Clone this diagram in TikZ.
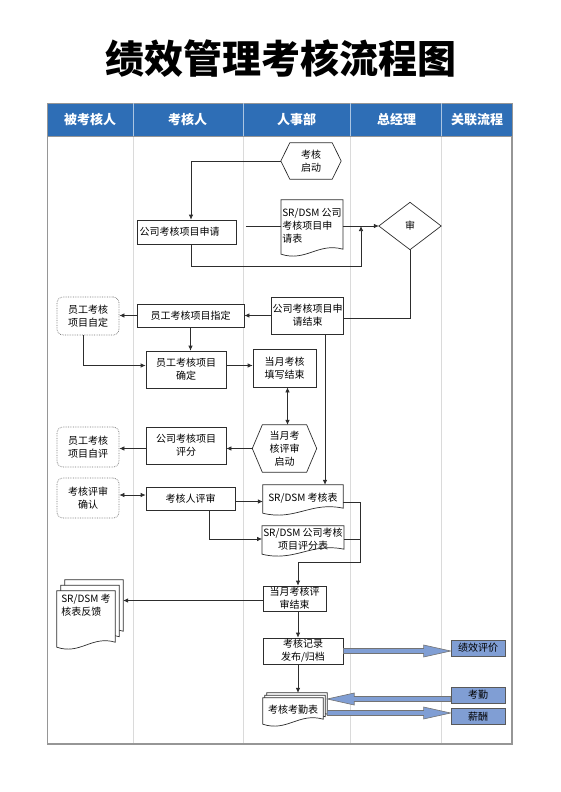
\documentclass[tikz,border=0pt]{standalone}
\usepackage{fontspec}
\setmainfont{Noto Sans CJK SC}
\usetikzlibrary{calc,arrows.meta}
\pgfdeclarelayer{back}
\pgfsetlayers{back,main}
\definecolor{hdrblue}{RGB}{46,110,182}
\definecolor{relblue}{RGB}{128,158,212}
\definecolor{laneline}{RGB}{218,218,218}
\definecolor{framegray}{RGB}{150,150,150}
\definecolor{ink}{RGB}{45,45,45}
\newcommand{\hexpath}[2]{\draw[shapeline] (#1.west) -- ($(#1.north west)+(#2,0)$) -- ($(#1.north east)+(-#2,0)$) -- (#1.east) -- ($(#1.south east)+(-#2,0)$) -- ($(#1.south west)+(#2,0)$) -- cycle;}
\newcommand{\docpathoff}[3]{\path[docline] ($(#1.north west)+(#2,#3)$) -- ($(#1.north east)+(#2,#3)$) -- ($(#1.south east)+(#2,#3-3)$) .. controls ($(#1.south east)!0.4!(#1.south west)+(#2,#3-10)$) and ($(#1.south east)!0.6!(#1.south west)+(#2,#3+10)$) .. ($(#1.south west)+(#2,#3+2)$) -- cycle;}
\newcommand{\docpath}[1]{\docpathoff{#1}{0}{0}}
\newcommand{\hblock}[2]{\path[blk] let \p1=#1, \p2=#2, \n1={sign(\x2-\x1)} in (\x1,{\y1+2.5pt}) -- ({\x2-(\n1)*27pt},{\y1+2.5pt}) -- ({\x2-(\n1)*27pt},{\y1+6pt}) -- (\x2,\y1) -- ({\x2-(\n1)*27pt},{\y1-6pt}) -- ({\x2-(\n1)*27pt},{\y1-2.5pt}) -- (\x1,{\y1-2.5pt}) -- cycle;}
\tikzset{
 txt/.style={font=\fontsize{10}{13}\selectfont, inner sep=1pt, align=center, text=black},
 box/.style={txt, draw=ink, line width=0.7pt, fill=white},
 bare/.style={txt, draw=none},
 soft/.style={txt, draw=black!55, densely dotted, line width=0.7pt, rounded corners=6pt},
 flow/.style={draw=ink, line width=0.7pt},
 arr/.style={flow, -{Latex[length=5pt,width=4.5pt]}},
 darr/.style={flow, {Latex[length=5pt,width=4.5pt]}-{Latex[length=5pt,width=4.5pt]}},
 rel/.style={txt, draw=black!65, fill=relblue, line width=0.7pt},
 blk/.style={draw=black!55, fill=relblue, line width=0.6pt},
 hdr/.style={font=\fontsize{13}{13}\selectfont\bfseries, text=white},
 docline/.style={draw=ink, fill=white, line width=0.7pt},
 shapeline/.style={draw=ink, line width=0.7pt},
 sz/.style 2 args={minimum width=#1pt, minimum height=#2pt},
}
\begin{document}
\begin{tikzpicture}[x=1pt,y=-1pt]
\useasboundingbox (0,0) rectangle (560,792);
% title
\node[font=\fontsize{39}{39}\selectfont\bfseries] (title) at (281,59) {绩效管理考核流程图};
% header
\fill[hdrblue] (47.5,103) rectangle (512,136);
\draw[framegray, line width=0.6pt] (47.5,103) rectangle (512,136);
\foreach \xx in {133,243,350.5,441.5}{\draw[white!60!hdrblue, line width=0.6pt] (\xx,103) -- (\xx,136);}
\node[hdr] (h1) at (90,119.5) {被考核人};
\node[hdr] (h2) at (187.5,119.5) {考核人};
\node[hdr] (h3) at (296.5,119.5) {人事部};
\node[hdr] (h4) at (396.5,119.5) {总经理};
\node[hdr] (h5) at (477,119.5) {关联流程};
% frame
\draw[framegray, line width=1.3pt] (47.5,136) -- (47.5,744) -- (512,744) -- (512,136);

% nodes
\node[bare, sz={60}{36}] (start) at (311,161) {考核\\启动};
\node[box, sz={99}{24}, text width=95pt, align=left] (req) at (187,232) {公司考核项目申请};
\node[bare, sz={61}{52}, align=left] (form1) at (312,226) {SR/DSM 公司\\考核项目申\\请表};
\node[bare, sz={62}{47}] (audit) at (410,226) {审};
\node[box, sz={71}{37}] (reqend) at (307.5,315.5) {公司考核项目申\\请结束};
\node[box, sz={107}{23}] (assign) at (190.5,315.5) {员工考核项目指定};
\node[soft, sz={62}{38}] (selfdef) at (88,316) {员工考核\\项目自定};
\node[box, sz={80}{37}] (confirm) at (186,369.5) {员工考核项目\\确定};
\node[box, sz={63}{38}] (fillend) at (284.5,368) {当月考核\\填写结束};
\node[bare, sz={64}{47}] (review) at (284.5,448.5) {当月考\\核评审\\启动};
\node[box, sz={80}{37}] (score) at (186,445.5) {公司考核项目\\评分};
\node[soft, sz={62}{40}] (selfeval) at (88,447) {员工考核\\项目自评};
\node[soft, sz={62}{40}] (ack) at (88,498) {考核评审\\确认};
\node[box, sz={89}{23}] (revw) at (190.5,498.5) {考核人评审};
\node[bare, sz={80}{26}] (sheet) at (303,498) {SR/DSM 考核表};
\node[bare, sz={80}{26}] (scoresheet) at (303,539) {SR/DSM 公司考核\\项目评分表};
\node[box, sz={63}{25}] (done) at (294.5,598.5) {当月考核评\\审结束};
\node[bare, sz={58}{54}, align=left] (fb) at (86,618) {SR/DSM 考\\核表反馈\\\mbox{}\\\mbox{}};
\node[box, sz={80}{26}] (record) at (303,651) {考核记录\\发布/归档};
\node[bare, sz={60}{24}] (att) at (293,710) {考核考勤表};
\node[rel, sz={54}{16}] (perf) at (478,648) {绩效评价};
\node[rel, sz={54}{16}] (kq) at (478,695) {考勤};
\node[rel, sz={54}{16}] (pay) at (478,716.5) {薪酬};

% shapes drawn around bare nodes
\hexpath{start}{9}
\hexpath{review}{10}
\draw[shapeline] (audit.north) -- (audit.east) -- (audit.south) -- (audit.west) -- cycle;
\begin{pgfonlayer}{back}
\foreach \xx in {133,243,350.5,441.5}{\draw[laneline, line width=0.8pt] (\xx,136) -- (\xx,744);}
\docpath{form1}
\docpath{sheet}
\docpath{scoresheet}
\docpathoff{fb}{8}{-11}
\docpathoff{fb}{4}{-5.5}
\docpath{fb}
\docpathoff{att}{4}{-5}
\docpathoff{att}{2}{-2.5}
\docpath{att}
\end{pgfonlayer}

% helper coordinates
\coordinate (reqR) at ($(req.east)+(9,0)$);
\coordinate (m1) at (361,226);
\coordinate (cfR) at ($(confirm.east)+(0,-4)$);
\coordinate (reA) at ($(reqend.south)+(17.5,0)$);
\coordinate (akR) at ($(ack.east)+(0,-3)$);
\coordinate (rvR) at ($(revw.east)+(0,3)$);
\coordinate (rvB) at ($(revw.south)+(18.5,0)$);
\coordinate (j1) at (360,562);
\coordinate (shR) at ($(sheet.east)+(0,4)$);
\coordinate (fbR) at ($(fb.east)+(8,0)$);
\coordinate (dnL) at ($(done.west)+(0,2)$);
\coordinate (dnB) at ($(done.south)+(3.5,0)$);
\coordinate (rcB) at ($(record.south)+(-5,0)$);
\coordinate (attT) at ($(att.north)+(0,-5)$);
\coordinate (kqL) at ($(kq.west)+(0,4)$);
\coordinate (attR) at ($(att.east)+(4,0)$);
\coordinate (attR2) at ($(att.east)+(4,3)$);

% connectors
\draw[arr] (start.west) -| ([xshift=4pt]req.north);
\draw[flow] (reqR |- form1.west) -- (form1.west);
\draw[arr] (form1.east) -- (audit.west);
\draw[arr] ([xshift=4pt]req.south) -- ++(0,22) -| (m1);
\draw[flow] (audit.south) |- ([yshift=-3pt]reqend.east);
\draw[arr] (reqend.west) -- (assign.east);
\draw[arr] (assign.west) -- (assign.west -| selfdef.east);
\draw[arr] (assign.south) -- (assign.south |- confirm.north);
\draw[arr] ([xshift=-5pt]selfdef.south) |- ([yshift=4pt]confirm.west);
\draw[arr] (cfR) -- (cfR -| fillend.west);
\draw[arr] (reA) -- (reA |- sheet.north);
\draw[darr] ([xshift=3pt]fillend.south) -- ([xshift=3pt]review.north);
\draw[arr] (review.west) -- (review.west -| score.east);
\draw[arr] (review.west -| score.west) -- (review.west -| selfeval.east);
\draw[darr] (akR) -- (akR -| revw.west);
\draw[arr] (rvR) -- (rvR -| sheet.west);
\draw[arr] (rvB) |- (scoresheet.west);
\draw[arr] (shR) -| (j1) -| ([xshift=3.5pt]done.north);
\draw[flow] (scoresheet.east) -- (scoresheet.east -| j1);
\draw[arr] (dnL) -- (dnL -| fbR);
\draw[arr] (dnB) -- (dnB |- record.north);
\draw[arr] (rcB) -- (rcB |- attT);
\hblock{(record.east)}{(perf.west)}
\hblock{(kqL)}{(attR)}
\hblock{(attR2)}{(pay.west)}
\end{tikzpicture}
\end{document}
